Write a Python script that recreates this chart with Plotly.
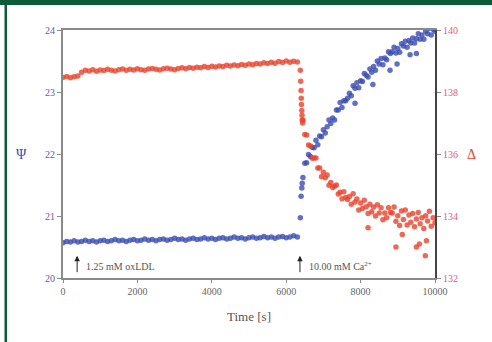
import plotly.graph_objects as go

# ---------------- data ----------------
# baseline (before Ca2+), every 100 s from 0 to 6300 s
t_base = list(range(0, 6400, 100))
psi_base = [20.57, 20.59, 20.58, 20.60, 20.58, 20.59, 20.61, 20.59, 20.60, 20.58,
            20.60, 20.61, 20.59, 20.60, 20.62, 20.60, 20.61, 20.59, 20.61, 20.62,
            20.60, 20.61, 20.63, 20.61, 20.62, 20.60, 20.62, 20.63, 20.61, 20.62,
            20.64, 20.62, 20.63, 20.61, 20.63, 20.64, 20.62, 20.63, 20.65, 20.63,
            20.64, 20.62, 20.64, 20.65, 20.63, 20.64, 20.66, 20.64, 20.65, 20.63,
            20.65, 20.66, 20.64, 20.65, 20.67, 20.65, 20.66, 20.64, 20.66, 20.67,
            20.65, 20.66, 20.68, 20.66]
delta_base = [138.47, 138.50, 138.46, 138.49, 138.52,
              138.64, 138.70, 138.68, 138.72, 138.67, 138.71, 138.69, 138.73, 138.70, 138.68,
              138.72, 138.74, 138.70, 138.73, 138.71, 138.75, 138.72, 138.70, 138.74, 138.76,
              138.73, 138.71, 138.75, 138.77, 138.74, 138.72, 138.76, 138.78, 138.75, 138.79,
              138.77, 138.80, 138.78, 138.82, 138.79, 138.83, 138.81, 138.84, 138.82, 138.86,
              138.84, 138.87, 138.85, 138.89, 138.86, 138.90, 138.88, 138.92, 138.90, 138.94,
              138.92, 138.96, 138.93, 138.98, 138.95, 139.00, 138.96, 138.99, 138.97]

# transition right after Ca2+ addition
t_psi_jump = [6380, 6400, 6420, 6430]
psi_jump = [20.97, 21.32, 21.45, 21.53]
t_delta_jump = [6380, 6390, 6400, 6405, 6410, 6420, 6425, 6430, 6440]
delta_jump = [138.70, 138.35, 138.05, 137.80, 137.60, 137.40, 137.25, 137.10, 137.00]

# after Ca2+, every 50 s from 6450 to 10000 s
t_ca = list(range(6450, 10050, 50))
psi_ca = [21.62, 21.85, 21.86, 21.99, 21.96, 22.11, 22.10, 22.22, 22.15, 22.29,
          22.28, 22.39, 22.34, 22.44, 22.55, 22.49, 22.58, 22.55, 22.71, 22.71,
          22.83, 22.75, 22.86, 22.86, 22.90, 22.98, 22.94, 23.10, 23.06, 23.15,
          23.07, 23.18, 23.17, 23.30, 23.27, 23.24, 23.37, 23.32, 23.41, 23.35,
          23.50, 23.45, 23.54, 23.44, 23.55, 23.52, 23.65, 23.62, 23.65, 23.72,
          23.63, 23.70, 23.64, 23.78, 23.74, 23.82, 23.72, 23.83, 23.79, 23.87,
          23.79, 23.86, 23.94, 23.85, 23.92, 23.85, 23.98, 23.94, 24.03, 23.92,
          24.01, 23.98]
delta_ca = [137.09, 136.63, 136.61, 136.29, 136.26, 135.86, 135.87, 135.87, 135.55, 135.55,
            135.27, 135.41, 135.23, 135.32, 134.99, 135.08, 134.92, 134.96, 135.00, 134.71,
            134.77, 134.56, 134.78, 134.60, 134.53, 134.63, 134.38, 134.72, 134.45, 134.55,
            134.19, 134.42, 134.24, 134.51, 134.30, 134.08, 134.38, 134.14, 134.29, 134.00,
            134.36, 134.10, 134.27, 133.88, 134.10, 133.94, 134.27, 134.11, 134.10, 134.29,
            133.83, 134.01, 133.69, 134.16, 133.89, 134.19, 133.71, 134.03, 133.80, 134.08,
            133.65, 133.90, 134.11, 133.75, 133.94, 133.60, 134.01, 133.84, 134.15, 133.67,
            133.94, 133.78]

# scattered outliers
t_psi_out = [7850, 8330, 8790, 8980, 9330, 9500]
psi_out = [22.82, 23.12, 23.35, 23.45, 23.60, 23.62]
t_delta_out = [8200, 8950, 9120, 9500, 9580, 9740, 9770]
delta_out = [133.62, 133.00, 133.40, 133.00, 133.10, 132.72, 133.20]

x_ticks = [0, 2000, 4000, 6000, 8000, 10000]
x_tick_labels = ["0", "2000", "4000", "6000", "8000", "10000"]
psi_ticks = [20, 21, 22, 23, 24]
delta_ticks = [132, 134, 136, 138, 140]

arrow_t = [380, 6370]
arrow_labels = ["1.25 mM oxLDL", "10.00 mM Ca<sup>2+</sup>"]

# ---------------- styling ----------------
BLUE = "#3a4cb0"
RED = "#e8432d"
SERIF = "Liberation Serif, Times New Roman, serif"
GREEN = "#0c5a38"

fig = go.Figure()

psi_t = t_base + t_psi_jump + t_ca + t_psi_out
psi_v = psi_base + psi_jump + psi_ca + psi_out
del_t = t_base + t_delta_jump + t_ca + t_delta_out
del_v = delta_base + delta_jump + delta_ca + delta_out

fig.add_trace(go.Scatter(x=psi_t, y=psi_v, mode="markers", yaxis="y",
                         marker=dict(color=BLUE, size=5.5, opacity=0.8, line=dict(width=0)),
                         showlegend=False))
fig.add_trace(go.Scatter(x=del_t, y=del_v, mode="markers", yaxis="y2",
                         marker=dict(color=RED, size=5.5, opacity=0.8, line=dict(width=0)),
                         showlegend=False))

annotations = []
for t, lab in zip(arrow_t, arrow_labels):
    annotations.append(dict(x=t, y=20.36, xref="x", yref="y", ax=t, ay=20.07,
                            axref="x", ayref="y", showarrow=True, arrowhead=2,
                            arrowsize=1.1, arrowwidth=1, arrowcolor="#222", text=""))
    annotations.append(dict(x=t + 180, y=20.19, xref="x", yref="y", showarrow=False,
                            text=lab, xanchor="left", yanchor="middle",
                            font=dict(family=SERIF, size=10, color="#555")))
annotations.append(dict(x=(21 - 63) / 372, y=0.5, xref="paper", yref="paper",
                        showarrow=False, xanchor="center", yanchor="middle",
                        text="Ψ", font=dict(family=SERIF, size=14, color=BLUE)))
annotations.append(dict(x=(472 - 63) / 372, y=0.5, xref="paper", yref="paper",
                        showarrow=False, xanchor="center", yanchor="middle",
                        text="Δ", font=dict(family=SERIF, size=14, color=RED)))

# green frame (top band and left line), in paper coords of a 372x248 plot area
shapes = [
    dict(type="rect", xref="paper", yref="paper", x0=-0.2, x1=1.2,
         y0=(278 - 5) / 248, y1=(278 + 2) / 248, fillcolor=GREEN, line=dict(width=0)),
    dict(type="rect", xref="paper", yref="paper", x0=(4.5 - 63) / 372, x1=(7 - 63) / 372,
         y0=(278 - 345) / 248, y1=(278 + 2) / 248, fillcolor=GREEN, line=dict(width=0)),
]

fig.update_layout(
    width=492, height=342,
    margin=dict(l=63, r=57, t=30, b=64),
    paper_bgcolor="white", plot_bgcolor="white",
    font=dict(family=SERIF),
    xaxis=dict(range=[0, 10000], tickvals=x_ticks, ticktext=x_tick_labels,
               showgrid=False, zeroline=False,
               showline=True, linecolor="#8a8a8a", linewidth=2, mirror=True,
               ticks="outside", ticklen=3, tickcolor="#8a8a8a",
               tickfont=dict(family=SERIF, size=10, color="#666"),
               title=dict(text="Time [s]", font=dict(family=SERIF, size=13, color="#555"),
                          standoff=16)),
    yaxis=dict(range=[20, 24], tickvals=psi_ticks, showgrid=False, zeroline=False,
               showline=True, linecolor="#8a8a8a", linewidth=2,
               ticks="outside", ticklen=4, tickcolor="#8a8a8a",
               tickfont=dict(family=SERIF, size=10, color="#5a5ea8")),
    yaxis2=dict(range=[132, 140], tickvals=delta_ticks, overlaying="y", side="right",
                showgrid=False, zeroline=False, showline=True, linecolor="#444",
                linewidth=2, ticks="outside", ticklen=4, tickcolor="#888",
                tickfont=dict(family=SERIF, size=10, color="#e0607a")),
    annotations=annotations,
    shapes=shapes,
)

fig.write_html("out.html")
